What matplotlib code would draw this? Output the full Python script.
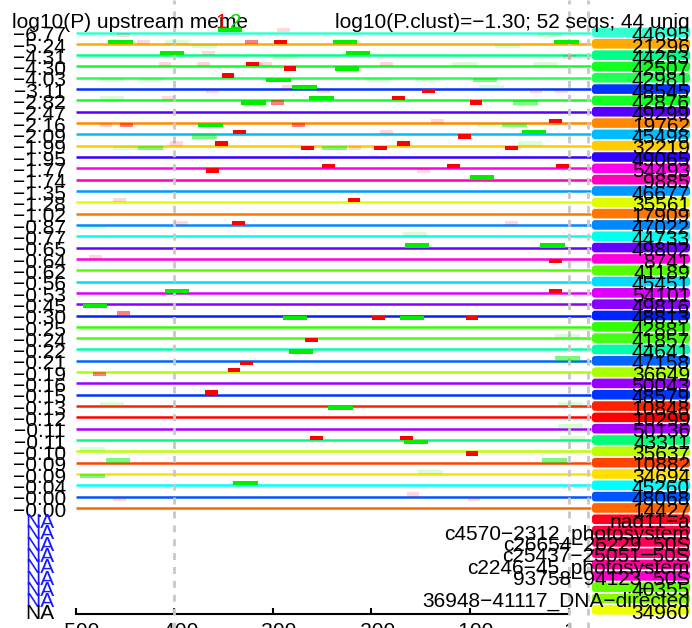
import matplotlib.pyplot as plt
from matplotlib.patches import FancyBboxPatch

plt.rcParams['font.family'] = ['Liberation Sans', 'DejaVu Sans']

# log10(P) per sequence (left labels)
pvals = [-6.77, -5.24, -4.31, -4.30, -4.03, -3.11, -2.82, -2.47, -2.16, -2.09,
         -1.99, -1.95, -1.77, -1.74, -1.35, -1.28, -1.02, -0.87, -0.77, -0.65,
         -0.64, -0.62, -0.56, -0.53, -0.45, -0.30, -0.25, -0.24, -0.22, -0.21,
         -0.19, -0.16, -0.15, -0.13, -0.12, -0.11, -0.11, -0.10, -0.09, -0.09,
         -0.04, -0.00, -0.00]

seq_labels = ["44695", "21296", "44263", "42507", "42981", "48545", "42876", "49299",
              "19762", "45498", "32219", "49065", "54493", "9885", "46677", "35561",
              "17909", "47022", "44733", "49802", "8741", "41189", "45451", "54101",
              "49816", "48813", "42881", "41857", "44641", "47158", "36649", "50043",
              "48579", "10848", "10299", "50136", "43311", "35637", "10882", "34694",
              "45260", "48068", "14427"]

seq_colors = ["#33FFD0", "#FFAA00", "#00FF88", "#11FF22", "#22FF55", "#0033FF", "#11FF22",
              "#5500FF", "#FF8800", "#00BBFF", "#FFCC00", "#3300FF", "#FF00EE", "#FF00BB",
              "#0099FF", "#DDFF00", "#FF7700", "#0088FF", "#00FFEE", "#6600FF", "#FF00DD",
              "#55FF00", "#00DDFF", "#DD00FF", "#8800FF", "#0022FF", "#33FF00", "#44FF11",
              "#00FFAA", "#0066FF", "#AAFF00", "#9900FF", "#0033FF", "#FF2200", "#FF0000",
              "#AA00FF", "#00FF77", "#BBFF00", "#FF4400", "#FFE000", "#00FFFF", "#0055FF",
              "#FF6600"]

# sequences without a p-value (NA rows)
na_labels = ["nad11\u2212a", "c4570\u22122312_photosystem", "c26654\u221226229_50S",
             "c25437\u221225051_50S", "c2246\u221245_photosystem", "93758\u221294123_50S",
             "40355", "36948\u221241117_DNA\u2212directed", "34960"]
na_colors = ["#FF0022", "#FF0044", "#FF0055", "#FF0077", "#FF0099", "#FF00CC",
             "#66FF00", "#88FF00", "#EEFF00"]

# motif 1 (red) hits: row, start (bp), strand (+1 above / -1 below), strength 1..3
m1_row = [0, 0, 1, 1, 1, 2, 2, 3, 3, 3, 3, 3, 3, 4, 5, 5, 5, 5, 5, 5,
          6, 6, 6, 6, 8, 8, 8, 8, 8, 9, 9, 9, 10, 10, 10, 10, 10, 10, 10,
          12, 12, 12, 12, 12, 15, 15, 17, 17, 17, 20, 20, 23,
          25, 25, 25, 27, 29, 30, 30, 32, 36, 36, 37, 41, 41, 41]
m1_pos = [-458, -296, -438, -328, -299, -372, -5, -416, -377, -327, -314, -289, -191, -352,
          -291, -368, -255, -148, -39, -13,
          -413, -302, -179, -100, -476, -455, -280, -139, -19, -340, -191, -112,
          -404, -359, -271, -223, -197, -174, -64,
          -250, -123, -368, -153, -12, -224, -462, -341, -399, -64, -487, -19, -19,
          -458, -199, -104, -267, -333, -346, -483, -369, -262, -171, -104, -164, -462, -102]
m1_strand = [-1, 1, 1, 1, 1, 1, -1, 1, 1, 1, 1, -1, 1, 1, 1, -1, -1, -1, -1, -1,
             1, -1, 1, -1, -1, -1, -1, 1, 1, 1, 1, -1, 1, 1, -1, -1, -1, 1, -1,
             1, 1, -1, -1, 1, 1, 1, 1, 1, 1, 1, -1, 1,
             1, -1, -1, -1, -1, 1, -1, 1, 1, 1, -1, 1, -1, -1]
m1_level = [1, 1, 1, 2, 3, 1, 1, 1, 1, 3, 1, 3, 1, 3, 1, 1, 1, 3, 1, 1,
            1, 2, 3, 3, 1, 2, 2, 1, 3, 3, 1, 3, 1, 3, 3, 1, 3, 3, 3,
            3, 3, 3, 1, 3, 3, 1, 3, 1, 1, 1, 3, 3,
            2, 3, 3, 3, 3, 3, 2, 3, 3, 3, 3, 1, 1, 1]

# motif 2 (green) hits
m2_row = [0, 0, 1, 1, 1, 1, 1, 1, 2, 2, 2, 3, 3, 3, 4, 4, 4, 4, 4, 4, 5, 5,
          6, 6, 6, 6, 8, 8, 8, 9, 9, 10, 10, 10, 10,
          13, 17, 18, 19, 19, 23, 24, 25, 25, 27, 28, 29, 33, 33, 33, 35,
          36, 36, 37, 38, 38, 39, 39, 40]
m2_pos = [-356, -31, -467, -410, -382, -239, -74, -14, -415, -299, -226, -237, -118, -36,
          -476, -437, -307, -205, -155, -97, -280, -90,
          -476, -332, -263, -56, -376, -93, -67, -382, -47, -462, -437, -250, -51,
          -100, -496, -168, -166, -28, -410, -493, -290, -171, -13, -284, -13, -476, -244, -10, -10,
          -167, -8, -496, -470, -26, -152, -496, -340]
m2_strand = [1, -1, 1, 1, -1, 1, -1, 1, 1, -1, 1, -1, 1, 1, -1, -1, -1, -1, -1, -1, 1, 1,
             1, -1, 1, -1, -1, -1, -1, -1, 1, -1, -1, -1, 1,
             1, -1, 1, 1, 1, 1, -1, -1, -1, 1, -1, 1, 1, -1, 1, 1,
             -1, 1, 1, 1, 1, 1, -1, 1]
m2_level = [3, 1, 3, 1, 1, 3, 1, 3, 3, 1, 3, 3, 1, 1, 1, 1, 3, 1, 1, 2, 3, 1,
            1, 3, 3, 2, 3, 1, 2, 2, 3, 1, 2, 2, 1,
            3, 1, 1, 3, 3, 3, 3, 3, 3, 1, 3, 2, 1, 3, 1, 1,
            3, 1, 1, 2, 2, 1, 2, 3]

alpha_of = {1: 0.15, 2: 0.5, 3: 1.0}

W, H = 692, 628
row_px0, row_step = 32.5, 11.32          # pixel centre of first row, row spacing

fig = plt.figure(figsize=(W / 100, H / 100), dpi=100)
ax_bottom_px = 614
ax = fig.add_axes([76 / W, 1 - ax_bottom_px / H, 493 / W, ax_bottom_px / H])
ax.set_xlim(-500, 1)
ax.set_ylim((ax_bottom_px - row_px0) / row_step, -row_px0 / row_step)

# overlay in pixel-x / row-y units for labels
ov = fig.add_axes([0, 0, 1, 1], zorder=5)
ov.set_xlim(0, W)
ov.set_ylim((H - row_px0) / row_step, -row_px0 / row_step)
ov.axis('off')
ov.patch.set_alpha(0)

rows = list(range(len(pvals)))

# sequence lines
line_end = 23
ax.hlines(rows, -500, line_end, colors=seq_colors, lw=1.8, zorder=2, clip_on=False)

# dashed guides
for xv in [-400, 1, 20]:
    ax.axvline(xv, ymin=-0.03, ymax=1, color='#C8C8C8', lw=2, ls=(0, (2.5, 2.5)),
               zorder=3, clip_on=False)

# motif boxes
bh = 0.38
def draw_hits(rr, pp, ss, lv, color, width):
    for r, p, s, l in zip(rr, pp, ss, lv):
        bottom = r - bh if s > 0 else r
        ax.bar(p, bh, width=width, bottom=bottom, align='edge', color=color,
               alpha=alpha_of[l], lw=0, zorder=4, clip_on=False)

draw_hits(m1_row, m1_pos, m1_strand, m1_level, '#FF0000', 13)
draw_hits(m2_row, m2_pos, m2_strand, m2_level, '#00EE00', 25)

# right side label boxes
all_labels = seq_labels + na_labels
all_colors = seq_colors + na_colors
box_h = 0.85
for i, c in enumerate(all_colors):
    ov.add_patch(FancyBboxPatch((592, i - box_h / 2), 98, box_h,
                                boxstyle="round,pad=0,rounding_size=3",
                                mutation_aspect=1 / row_step,
                                fc=c, ec='none', zorder=1))
for i, t in enumerate(all_labels):
    ov.text(690, i + 0.77, t, ha='right', va='baseline', fontsize=15, zorder=2)

# left p-value labels
for i, p in enumerate(pvals):
    ov.text(39.5, i + 0.77, "\u2212%.2f" % abs(p), ha='center', va='baseline', fontsize=15)
for j in range(len(na_labels)):
    col = 'black' if j == len(na_labels) - 1 else '#1A1AFF'
    ov.text(39.5, len(pvals) + j + 0.77, "NA", ha='center', va='baseline',
            fontsize=15, color=col)

# titles
title_y = -row_px0 / row_step + 28 / row_step
ov.text(12.5, title_y, "log10(P) upstream meme", ha='left', va='baseline', fontsize=15)
ov.text(690, title_y, "log10(P.clust)=\u22121.30; 52 seqs; 44 uniq", ha='right',
        va='baseline', fontsize=15)
ov.text(221, title_y, "1", color='red', ha='center', va='baseline', fontsize=15)
ov.text(236, title_y, "2", color='#00DD00', ha='center', va='baseline', fontsize=15)

# x axis
for s in ['top', 'left', 'right']:
    ax.spines[s].set_visible(False)
ax.spines['bottom'].set_bounds(-500, 1)
ax.spines['bottom'].set_linewidth(1.5)
ticks = [-500, -400, -300, -200, -100, 1]
ax.set_xticks(ticks)
ax.set_xticklabels(["\u2212500", "\u2212400", "\u2212300", "\u2212200", "\u2212100", "1"],
                   fontsize=15)
ax.tick_params(axis='x', direction='in', length=4.5, width=1.5, pad=6)
ax.set_yticks([])
ax.patch.set_alpha(0)

fig.savefig("out.png", dpi=100)
